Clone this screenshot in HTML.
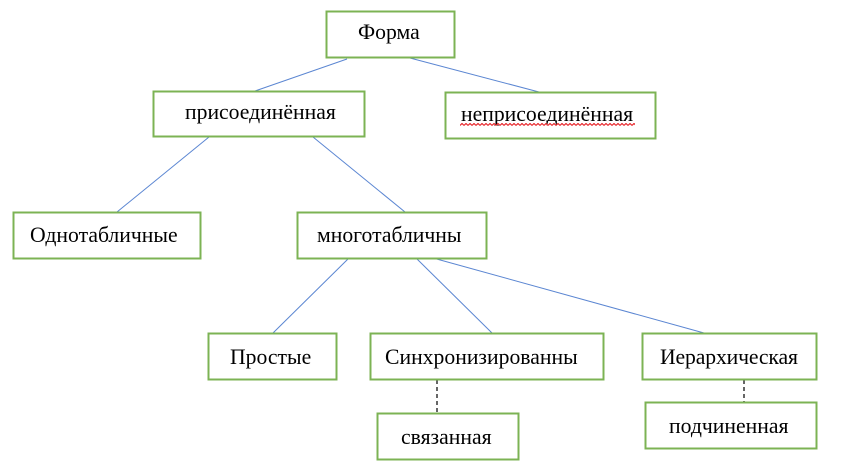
<!DOCTYPE html>
<html lang="ru">
<head>
<meta charset="utf-8">
<style>
html,body{margin:0;padding:0;background:#fff;width:841px;height:473px;overflow:hidden}
svg{display:block}
text{font-family:"Liberation Serif","Noto Serif CJK SC",serif;font-size:21.7px;fill:#000}
.b{fill:#fff;stroke:#7cb354;stroke-width:2}
.l{stroke:#5b86d2;stroke-width:1;fill:none}
.d{stroke:#000;stroke-width:1.2;stroke-dasharray:4 3;fill:none}
</style>
</head>
<body>
<svg width="841" height="473" viewBox="0 0 841 473" xmlns="http://www.w3.org/2000/svg">
<defs>
<pattern id="w" x="460" y="123" width="4" height="3" patternUnits="userSpaceOnUse">
<path d="M0 2.500 L2 0.500 L4 2.500" fill="none" stroke="#e8262a" stroke-width="1.200"/>
</pattern>
</defs>
<line class="l" x1="347" y1="59" x2="255" y2="91"/>
<line class="l" x1="410" y1="58" x2="539" y2="92"/>
<line class="l" x1="209" y1="137" x2="117" y2="212"/>
<line class="l" x1="313" y1="137" x2="405" y2="212"/>
<line class="l" x1="349" y1="258" x2="273" y2="333"/>
<line class="l" x1="416" y1="258" x2="492" y2="333"/>
<line class="l" x1="433" y1="258" x2="704" y2="333"/>
<line class="d" x1="437" y1="380" x2="437" y2="413"/>
<line class="d" x1="744" y1="380" x2="744" y2="402"/>
<rect class="b" x="326.500" y="11.500" width="128" height="46"/>
<rect class="b" x="153.500" y="91.500" width="211" height="45"/>
<rect class="b" x="445.500" y="92.500" width="210" height="46"/>
<rect class="b" x="13.500" y="212.500" width="187" height="46"/>
<rect class="b" x="297.500" y="212.500" width="189" height="46"/>
<rect class="b" x="208.500" y="333.500" width="128" height="46"/>
<rect class="b" x="370.500" y="333.500" width="233" height="46"/>
<rect class="b" x="642.500" y="333.500" width="174" height="46"/>
<rect class="b" x="377.500" y="413.500" width="141" height="46"/>
<rect class="b" x="645.500" y="402.500" width="171" height="46"/>
<text x="358" y="39">Форма</text>
<text x="185" y="119">присоединённая</text>
<text x="461" y="121">неприсоединённая</text>
<text x="30" y="242">Однотабличные</text>
<text x="317" y="242">многотабличны</text>
<text x="230" y="364">Простые</text>
<text x="385" y="364">Синхронизированны</text>
<text x="660" y="364" textLength="138">Иерархическая</text>
<text x="401" y="444">связанная</text>
<text x="669" y="433">подчиненная</text>
<rect x="460" y="123" width="175" height="3" fill="url(#w)"/>
</svg>
</body>
</html>
